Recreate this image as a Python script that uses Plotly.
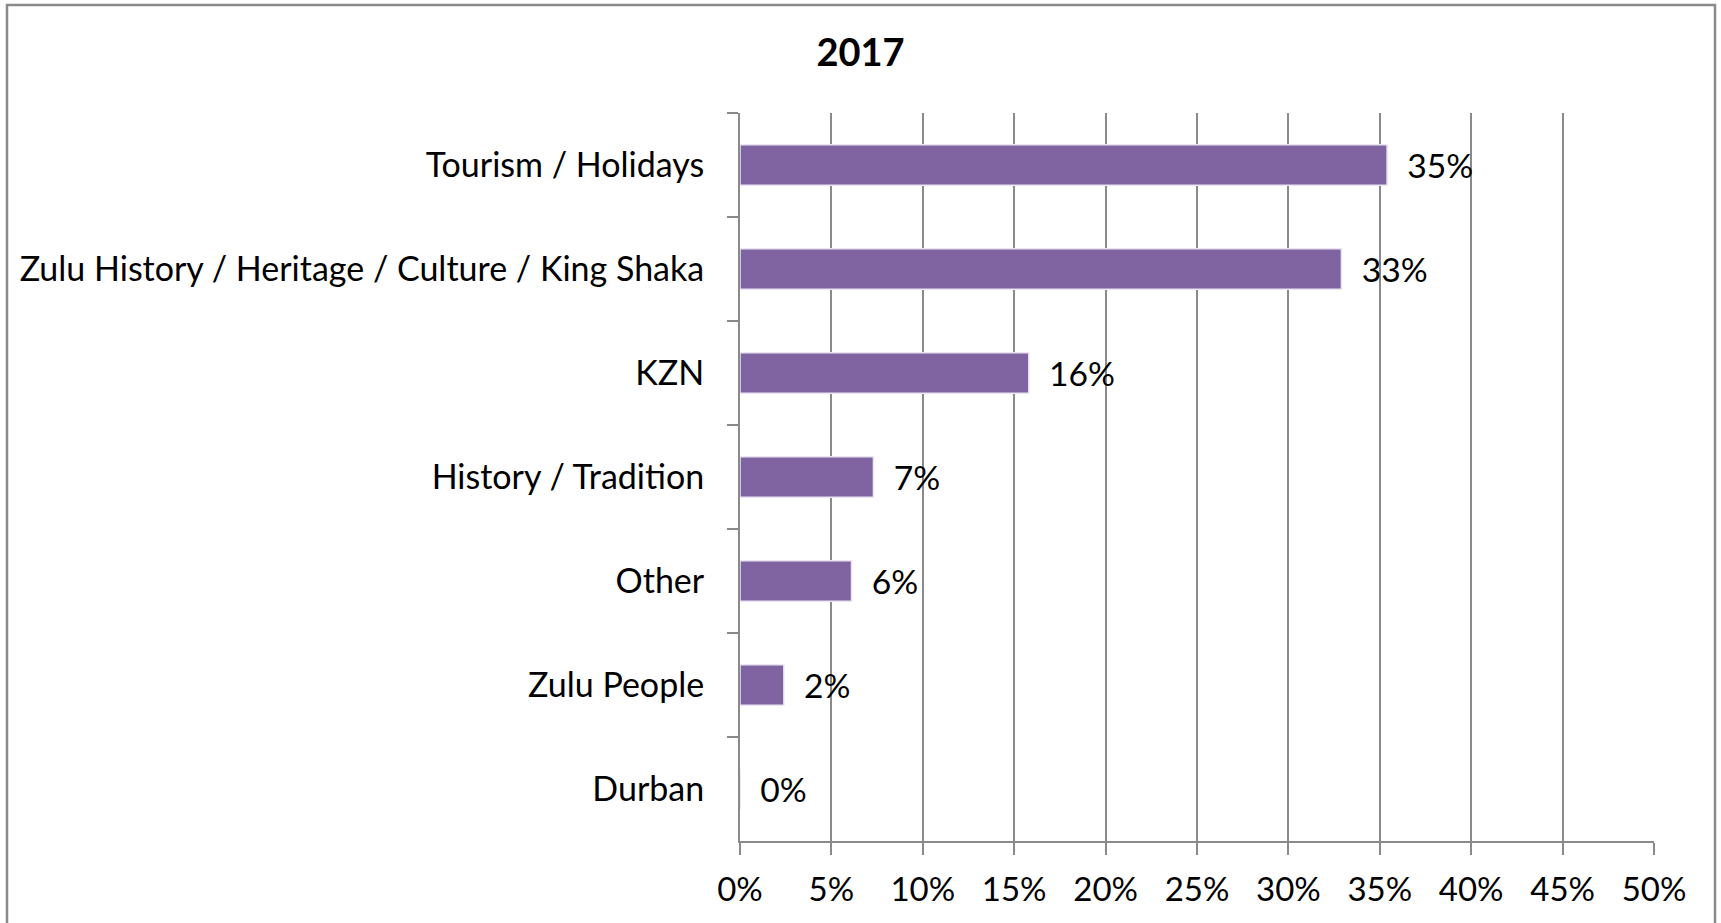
import plotly.graph_objects as go

# survey answers, top to bottom as they appear in the chart
categories = [
    "Tourism / Holidays",
    "Zulu History / Heritage / Culture / King Shaka",
    "KZN",
    "History / Tradition",
    "Other",
    "Zulu People",
    "Durban",
]
shares = [35.4, 32.9, 15.8, 7.3, 6.1, 2.4, 0.0]
x_ticks = [0, 5, 10, 15, 20, 25, 30, 35, 40, 45, 50]
x_tick_labels = [f"{v}%" for v in x_ticks]

FONT = "Lato, 'Open Sans', sans-serif"
GREY = "#8a8a8a"

fig = go.Figure()

fig.add_trace(go.Bar(
    y=categories,
    x=shares,
    orientation="h",
    marker=dict(color="#8064a2", line=dict(color="#ece6f3", width=1.5)),
    text=[f"{v:.0f}%" for v in shares],
    texttemplate="  %{text}",
    textposition="outside",
    textfont=dict(family=FONT, size=34, color="black"),
    cliponaxis=False,
    showlegend=False,
))

fig.update_layout(
    width=1721,
    height=923,
    margin=dict(l=740, r=67, t=113, b=82),
    paper_bgcolor="white",
    plot_bgcolor="white",
    bargap=0.61,
    font=dict(family=FONT, size=34, color="black"),
    title=dict(
        text="<b>2017</b>",
        font=dict(family=FONT, size=38, color="black"),
        x=0.5, xref="container", xanchor="center",
        y=1 - 53 / 923, yref="container", yanchor="middle",
    ),
    xaxis=dict(
        range=[0, 50],
        tickvals=x_ticks,
        ticktext=x_tick_labels,
        showgrid=True,
        gridcolor=GREY,
        gridwidth=1.5,
        zeroline=False,
        showline=True,
        linecolor=GREY,
        linewidth=2,
        ticks="outside",
        ticklen=12,
        tickcolor=GREY,
        tickwidth=1.5,
        ticklabelstandoff=6,
        tickfont=dict(family=FONT, size=33),
    ),
    yaxis=dict(
        autorange="reversed",
        showgrid=False,
        zeroline=False,
        showline=True,
        linecolor=GREY,
        linewidth=2,
        ticks="outside",
        tickson="boundaries",
        ticklen=11,
        tickcolor=GREY,
        tickwidth=1.5,
        ticklabelstandoff=27,
        tickfont=dict(family=FONT, size=34),
    ),
    shapes=[dict(
        type="rect", xref="paper", yref="paper",
        x0=(7 - 740) / 914, x1=(1715 - 740) / 914,
        y0=-0.3, y1=1 + (113 - 5) / 728,
        line=dict(color=GREY, width=2.5),
        layer="below",
    )],
)

# drop the default body margin so the figure sits at the page origin
fig.write_html(
    "out.html",
    config={"displayModeBar": False},
    post_script="document.body.style.margin='0px';",
)
